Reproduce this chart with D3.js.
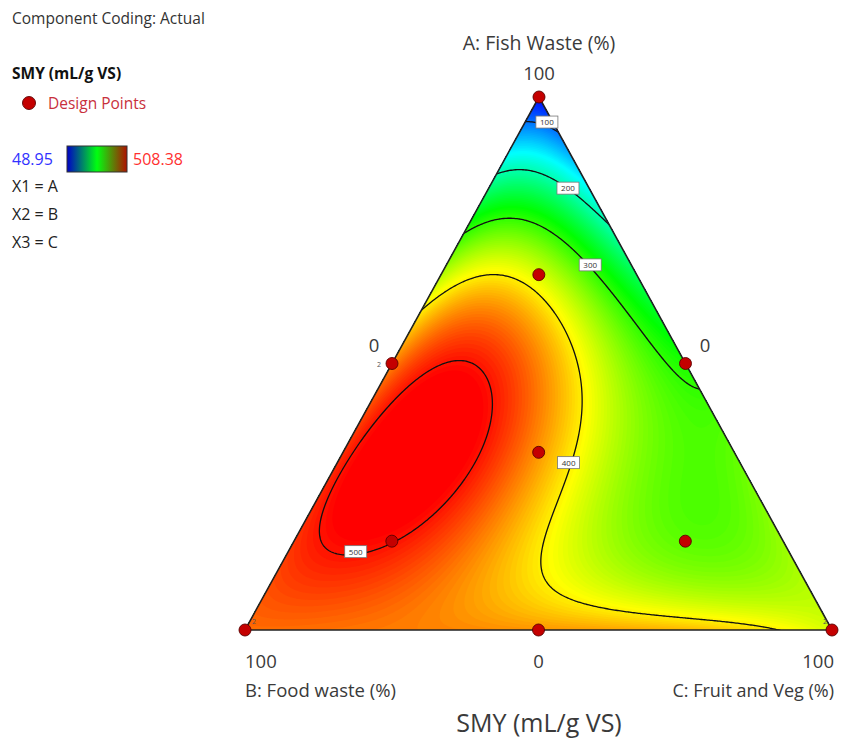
<!DOCTYPE html>
<html>
<head>
<meta charset="utf-8">
<script src="https://cdn.jsdelivr.net/npm/d3@7"></script>
<style>
  html, body { margin: 0; padding: 0; background: #fff; }
  svg { display: block; font-family: "Open Sans", "Noto Sans", sans-serif; }
</style>
</head>
<body>
<svg id="chart" width="841" height="738"></svg>
<script>
// ---------------- DATA ----------------
const componentNames = ["A: Fish Waste (%)", "B: Food waste (%)", "C: Fruit and Veg (%)"];
const legendLines = ["X1 = A", "X2 = B", "X3 = C"];
const responseName = "SMY (mL/g VS)";
const responseRange = [48.95, 508.38];
const contourLevels = [100, 200, 300, 400, 500];

// design points: [A, B, C] fractions, and estimated response
const designPoints = [
  [1, 0, 0], [0, 1, 0], [0, 0, 1],
  [0.5, 0.5, 0], [0.5, 0, 0.5], [0, 0.5, 0.5],
  [1/3, 1/3, 1/3],
  [2/3, 1/6, 1/6], [1/6, 2/3, 1/6], [1/6, 1/6, 2/3]
];
const designResponse = [49, 460, 365, 480, 288, 430, 444, 375, 500, 312];
const replicateLabels = [[0.5, 0.5, 0], [0, 1, 0], [0, 0, 1]]; // points run twice

// contour readings: [A, C] fractions lying on each contour level
const contour100 = [[0.962, 0.000], [0.953, 0.037], [0.919, 0.080]];
const contour200 = [[0.857, 0.000], [0.863, 0.031], [0.850, 0.082], [0.829, 0.135], [0.801, 0.187], [0.732, 0.267]];
const contour300 = [[0.741, 0.000], [0.771, 0.060], [0.756, 0.124], [0.719, 0.194], [0.685, 0.245],
  [0.644, 0.305], [0.568, 0.388], [0.507, 0.465], [0.475, 0.503], [0.465, 0.535]];
const contour400 = [[0.597, 0.000], [0.625, 0.019], [0.664, 0.097], [0.644, 0.168], [0.606, 0.228],
  [0.544, 0.285], [0.469, 0.339], [0.394, 0.377], [0.332, 0.392], [0.257, 0.403], [0.193, 0.414],
  [0.144, 0.439], [0.099, 0.482], [0.062, 0.535], [0.043, 0.595], [0.028, 0.688], [0.019, 0.778],
  [0.009, 0.861], [0.000, 0.911]];
const contour500 = [[0.501, 0.120], [0.475, 0.174], [0.418, 0.213], [0.343, 0.240], [0.263, 0.235],
  [0.201, 0.210], [0.159, 0.172], [0.137, 0.139], [0.137, 0.093], [0.174, 0.049], [0.231, 0.024],
  [0.319, 0.019], [0.407, 0.038], [0.475, 0.065], [0.497, 0.095]];
// colour readings: [A, C, value]
const colourReadings = [
  [0.32, 0.13, 508], [0.30, 0.55, 310], [0.15, 0.75, 340], [0.05, 0.90, 385], [0.25, 0.75, 328],
  [0.40, 0.45, 312], [0, 0.25, 450], [0, 0.75, 412], [0.25, 0, 492], [0.10, 0, 478], [0.70, 0, 335],
  [0.92, 0, 120]
];
// contour label anchors: [A, C]
const labelAnchors = [[0.953, 0.037], [0.829, 0.135], [0.685, 0.245], [0.314, 0.394], [0.147, 0.115]];

// ---------------- MODEL (Scheffe quartic, least squares) ----------------
function terms(a, b, c) {
  return [a, b, c, a*b, a*c, b*c,
    a*b*(a-b), a*c*(a-c), b*c*(b-c),
    a*b*(a-b)*(a-b), a*c*(a-c)*(a-c), b*c*(b-c)*(b-c),
    a*a*b*c, a*b*b*c, a*b*c*c];
}
const obs = [];
designPoints.forEach((p, i) => obs.push([p[0], p[1], p[2], designResponse[i], 0.5]));
[[contour100, 100], [contour200, 200], [contour300, 300], [contour400, 400], [contour500, 500]].forEach(([arr, v]) =>
  arr.forEach(([a, c]) => obs.push([a, 1 - a - c, c, v, 1])));
colourReadings.forEach(([a, c, v]) => obs.push([a, 1 - a - c, c, v, 0.4]));

const K = 15;
const M = Array.from({length: K}, () => new Array(K).fill(0));
const r = new Array(K).fill(0);
obs.forEach(([a, b, c, v, w]) => {
  const t = terms(a, b, c);
  for (let i = 0; i < K; i++) { r[i] += w * t[i] * v; for (let j = 0; j < K; j++) M[i][j] += w * t[i] * t[j]; }
});
for (let i = 0; i < K; i++) M[i][i] += 1e-7;
function solve(A, bb) {
  const n = bb.length; A = A.map(row => row.slice()); bb = bb.slice();
  for (let i = 0; i < n; i++) {
    let p = i; for (let k = i + 1; k < n; k++) if (Math.abs(A[k][i]) > Math.abs(A[p][i])) p = k;
    [A[i], A[p]] = [A[p], A[i]]; [bb[i], bb[p]] = [bb[p], bb[i]];
    for (let k = i + 1; k < n; k++) { const f = A[k][i] / A[i][i]; for (let j = i; j < n; j++) A[k][j] -= f * A[i][j]; bb[k] -= f * bb[i]; }
  }
  const x = new Array(n).fill(0);
  for (let i = n - 1; i >= 0; i--) { let s = bb[i]; for (let j = i + 1; j < n; j++) s -= A[i][j] * x[j]; x[i] = s / A[i][i]; }
  return x;
}
const coef = solve(M, r);
const model = (a, b, c) => terms(a, b, c).reduce((s, t, i) => s + t * coef[i], 0);

// ---------------- GEOMETRY ----------------
const svg = d3.select("#chart");
const yScale = d3.scaleLinear().domain([0, 1]).range([630, 97]);   // A fraction -> y
const leftX = d3.scaleLinear().domain([0, 1]).range([245, 539]);   // left edge x at A
const cScale = d3.scaleLinear().domain([0, 1]).range([0, 587]);    // C fraction -> x offset
const project = (a, c) => [leftX(a) + cScale(c), yScale(a)];
const vA = project(1, 0), vB = project(0, 0), vC = project(0, 1);

const defs = svg.append("defs");
defs.append("clipPath").attr("id", "tri").append("path")
  .attr("d", `M${vA}L${vB}L${vC}Z`);

// colour scale
const lo = responseRange[0], hi = responseRange[1];
const colour = d3.scaleLinear()
  .domain(d3.range(5).map(i => lo + i * (hi - lo) / 4))
  .range(["#0000ff", "#00ffff", "#00ff00", "#ffff00", "#ff0000"])
  .clamp(true);

// grid
const step = 1.5, gx0 = 238, gy0 = 90;
const nx = Math.ceil((842 - gx0) / step), ny = Math.ceil((640 - gy0) / step);
const values = new Float64Array(nx * ny);
for (let j = 0; j < ny; j++) for (let i = 0; i < nx; i++) {
  const px = gx0 + i * step, py = gy0 + j * step;
  const a = yScale.invert(py), c = cScale.invert(px - leftX(a)), b = 1 - a - c;
  values[j * nx + i] = model(a, b, c);
}
const gridPath = d3.geoPath(d3.geoTransform({
  point(x, y) { this.stream.point(gx0 + (x - 0.5) * step, gy0 + (y - 0.5) * step); }
}));
const fillLevels = d3.range(-200, 800, 3.5);
const fills = d3.contours().size([nx, ny]).thresholds(fillLevels)(values);
const plot = svg.append("g").attr("clip-path", "url(#tri)");
plot.selectAll("path.band").data(fills).join("path")
  .attr("class", "band")
  .attr("d", gridPath)
  .attr("fill", d => colour(d.value + 1.75));

const lines = d3.contours().size([nx, ny]).thresholds(contourLevels)(values);
plot.selectAll("path.iso").data(lines).join("path")
  .attr("class", "iso")
  .attr("d", gridPath)
  .attr("fill", "none")
  .attr("stroke", "#111")
  .attr("stroke-width", 1.3);

// triangle outline
svg.append("path").attr("d", `M${vA}L${vB}L${vC}Z`)
  .attr("fill", "none").attr("stroke", "#222").attr("stroke-width", 1.6);

// contour labels
labelAnchors.forEach((p, i) => {
  const [x, y] = project(p[0], p[1]);
  const g = svg.append("g").attr("transform", `translate(${x},${y})`);
  g.append("rect").attr("x", -11).attr("y", -6).attr("width", 22).attr("height", 12)
    .attr("fill", "#fff").attr("stroke", "#777").attr("stroke-width", 0.8);
  g.append("text").attr("text-anchor", "middle").attr("y", 3)
    .attr("font-size", 8).attr("fill", "#333").text(contourLevels[i]);
});

// design points
svg.selectAll("circle.dp").data(designPoints).join("circle")
  .attr("class", "dp")
  .attr("cx", d => project(d[0], d[2])[0])
  .attr("cy", d => project(d[0], d[2])[1])
  .attr("r", 6)
  .attr("fill", "#c40000").attr("stroke", "#5a0000").attr("stroke-width", 0.9);

// replicate "2" marks
const repOffsets = [[-15, 3], [7, -6], [-9, -6]];
svg.selectAll("text.rep").data(replicateLabels).join("text")
  .attr("class", "rep")
  .attr("x", (d, i) => project(d[0], d[2])[0] + repOffsets[i][0])
  .attr("y", (d, i) => project(d[0], d[2])[1] + repOffsets[i][1])
  .attr("font-size", 7).attr("fill", "#555").text("2");

// axis labels
const txt = (x, y, s, size, anchor, fill, weight) => svg.append("text")
  .attr("x", x).attr("y", y).attr("font-size", size).attr("text-anchor", anchor || "start")
  .attr("fill", fill || "#3a3a3a").attr("font-weight", weight || "normal").text(s);

txt(vA[0], 50, componentNames[0], 19.5, "middle");
txt(vA[0], 80, "100", 18.5, "middle");
txt(374, 352, "0", 18.5, "middle");
txt(705, 352, "0", 18.5, "middle");
txt(vB[0], 668, "100", 18.5, "start");
txt(project(0, 0.5)[0], 668, "0", 18.5, "middle");
txt(vC[0] + 2, 668, "100", 18.5, "end");
txt(vB[0], 697, componentNames[1], 18.5, "start");
txt(vC[0] + 2, 697, componentNames[2], 18, "end");
txt(vA[0], 732, responseName, 25, "middle");

// legend
txt(12, 24, "Component Coding: Actual", 15.5, "start", "#333");
txt(12, 79, responseName, 15.5, "start", "#111", "bold");
svg.append("circle").attr("cx", 29).attr("cy", 103).attr("r", 6.5)
  .attr("fill", "#c40000").attr("stroke", "#5a0000").attr("stroke-width", 0.9);
txt(48, 109, "Design Points", 15.5, "start", "#c8303c");

const grad = defs.append("linearGradient").attr("id", "cbar");
[["0%", "#0000c8"], ["50%", "#00ff10"], ["100%", "#b01000"]].forEach(([o, c]) =>
  grad.append("stop").attr("offset", o).attr("stop-color", c));
svg.append("rect").attr("x", 67).attr("y", 146).attr("width", 60).attr("height", 26)
  .attr("fill", "url(#cbar)").attr("stroke", "#333").attr("stroke-width", 1);
txt(12, 165, d3.format(".2f")(lo), 16, "start", "#3232ff");
txt(133, 165, d3.format(".2f")(hi), 16, "start", "#ff3030");
legendLines.forEach((s, i) => txt(12, 192 + i * 28, s, 16, "start", "#222"));
</script>
</body>
</html>
